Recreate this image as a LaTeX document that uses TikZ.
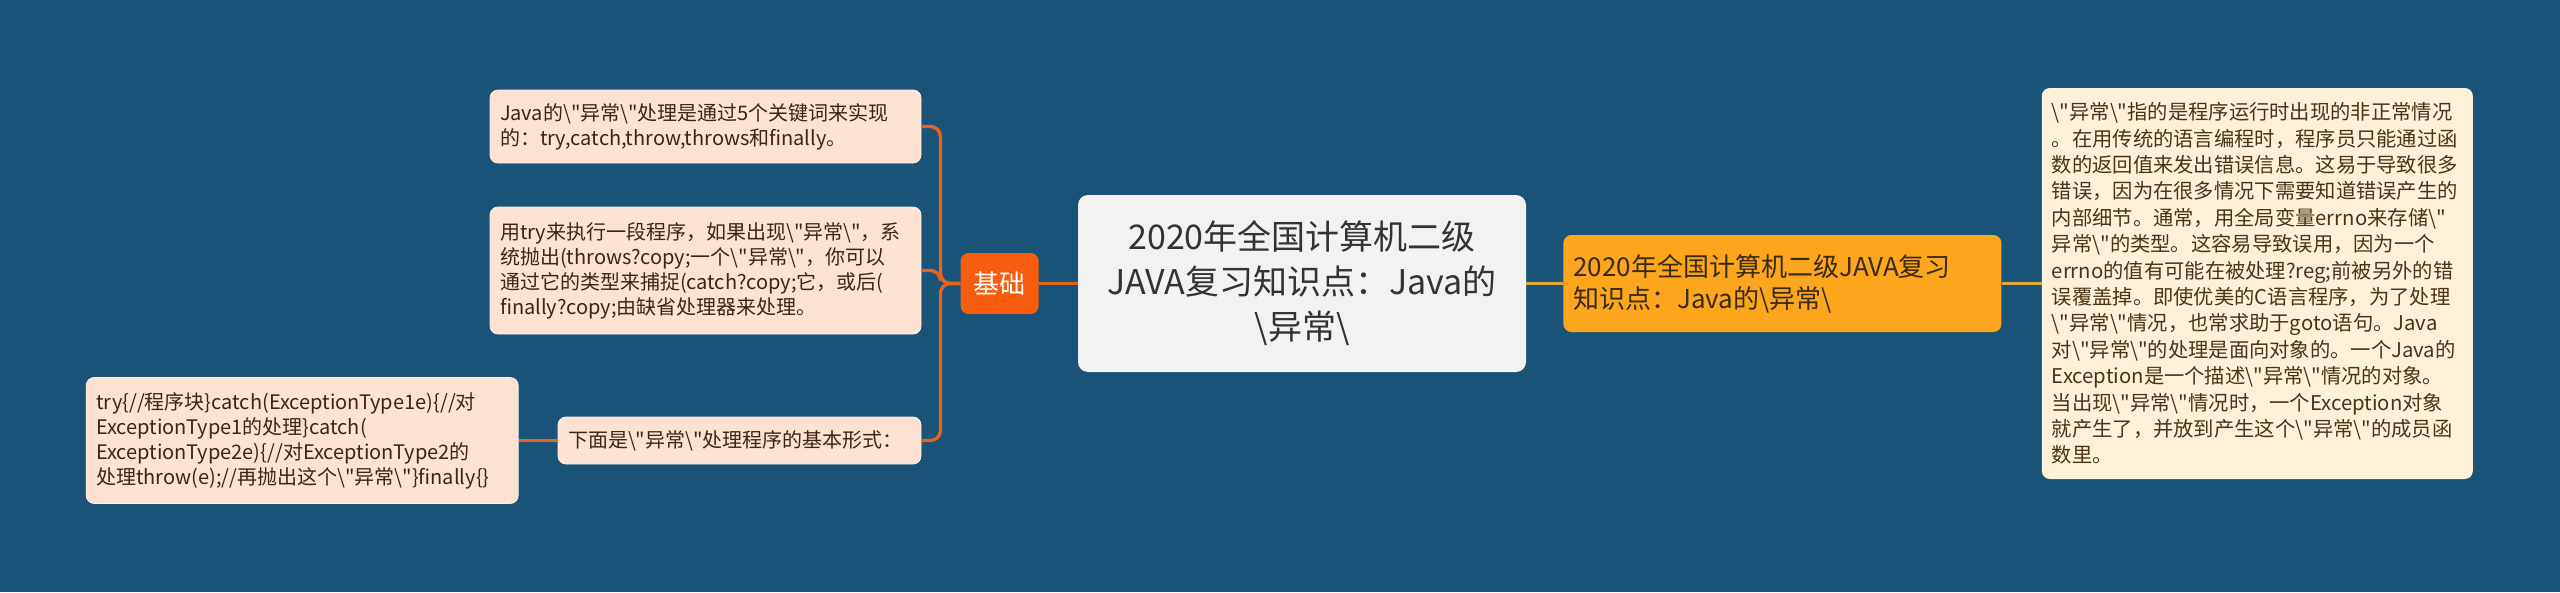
\documentclass[tikz,border=0pt]{standalone}
\usepackage{fontspec}
\setmainfont{Noto Sans CJK SC}[Ligatures=TeXOff]
\usetikzlibrary{positioning}
\definecolor{bgblue}{HTML}{1A5378}
\definecolor{leaffill}{HTML}{FDE2D3}
\definecolor{leaftext}{HTML}{3A2618}
\definecolor{basefill}{HTML}{F65D0E}
\definecolor{lineorange}{HTML}{E8641C}
\definecolor{rootfill}{HTML}{F2F2F2}
\definecolor{roottext}{HTML}{333333}
\definecolor{topicfill}{HTML}{FBA61D}
\definecolor{topictext}{HTML}{3A2A10}
\definecolor{linegold}{HTML}{DCA63C}
\definecolor{detailfill}{HTML}{FEF1DA}
\definecolor{detailtext}{HTML}{4A3414}
\newcommand{\bsl}{\textbackslash}
\begin{document}
\begin{tikzpicture}[node distance=39pt,
  box/.style={rounded corners=8pt, inner ysep=0pt},
  leaf/.style={box, fill=leaffill, draw=white!40!leaffill, line width=0.8pt, text=leaftext,
    inner xsep=10pt, align=left, font=\fontsize{20}{25}\selectfont},
  base/.style={box, fill=basefill, text=white, minimum width=78pt, minimum height=61pt,
    inner xsep=0pt, font=\fontsize{26}{30}\selectfont},
  rootbox/.style={box, rounded corners=10pt, fill=rootfill, text=roottext, text width=428pt,
    inner xsep=10pt, minimum height=177pt, align=center, font=\fontsize{34}{45}\selectfont},
  topic/.style={box, fill=topicfill, text=topictext, text width=418pt, inner xsep=10pt,
    minimum height=97pt, align=left, font=\fontsize{26}{32}\selectfont},
  detail/.style={box, fill=detailfill, text=detailtext, text width=411pt, inner xsep=10pt,
    minimum height=391pt, align=left, font=\fontsize{20.3}{26.4}\selectfont},
  bline/.style={draw=lineorange, line width=3.3pt, rounded corners=10pt},
  gline/.style={draw=linegold, line width=3pt}]

  \fill[bgblue] (0,0) rectangle (2560pt,-592pt);

  \node[rootbox] (root) at (1302pt,-283.5pt)
    {2020年全国计算机二级\\JAVA复习知识点：Java的\\\bsl 异常\bsl};
  \node[base, left=of root] (basics) {基础};

  \node[leaf, text width=411pt, minimum height=73pt, left=of basics, yshift=157pt] (keywords)
    {Java的\bsl"异常\bsl"处理是通过5个关键词来实现\\的：try,catch,throw,throws和finally。};
  \node[leaf, text width=411pt, minimum height=127pt, left=of basics, yshift=13pt] (tryuse)
    {用try来执行一段程序，如果出现\bsl"异常\bsl"，系\\统抛出(throws?copy;一个\bsl"异常\bsl"，你可以\\通过它的类型来捕捉(catch?copy;它，或后(\\finally?copy;由缺省处理器来处理。};
  \node[leaf, text width=343pt, minimum height=47pt, left=of basics, yshift=-157pt] (form)
    {下面是\bsl"异常\bsl"处理程序的基本形式：};
  \node[leaf, text width=412pt, minimum height=126pt, left=of form] (code)
    {try\{//程序块\}catch(ExceptionType1e)\{//对\\ExceptionType1的处理\}catch(\\ExceptionType2e)\{//对ExceptionType2的\\处理throw(e);//再抛出这个\bsl"异常\bsl"\}finally\{\}};

  \node[topic, right=37pt of root] (topic)
    {2020年全国计算机二级JAVA复习\\知识点：Java的\bsl 异常\bsl};
  \node[detail, right=40pt of topic] (detail)
    {\bsl"异常\bsl"指的是程序运行时出现的非正常情况\\
     。在用传统的语言编程时，程序员只能通过函\\
     数的返回值来发出错误信息。这易于导致很多\\
     错误，因为在很多情况下需要知道错误产生的\\
     内部细节。通常，用全局变量errno来存储\bsl"\\
     异常\bsl"的类型。这容易导致误用，因为一个\\
     errno的值有可能在被处理?reg;前被另外的错\\
     误覆盖掉。即使优美的C语言程序，为了处理\\
     \bsl"异常\bsl"情况，也常求助于goto语句。Java\\
     对\bsl"异常\bsl"的处理是面向对象的。一个Java的\\
     Exception是一个描述\bsl"异常\bsl"情况的对象。\\
     当出现\bsl"异常\bsl"情况时，一个Exception对象\\
     就产生了，并放到产生这个\bsl"异常\bsl"的成员函\\
     数里。};

  \draw[bline] (root) to (basics);
  \draw[bline] (basics.west) -- ++(-20pt,0) |- (keywords.east);
  \draw[bline] (basics.west) -- ++(-20pt,0) |- (tryuse.east);
  \draw[bline] (basics.west) -- ++(-20pt,0) |- (form.east);
  \draw[bline] (form) to (code);

  \draw[gline] (root) to (topic);
  \draw[gline] (topic) to (detail);

\end{tikzpicture}
\end{document}
